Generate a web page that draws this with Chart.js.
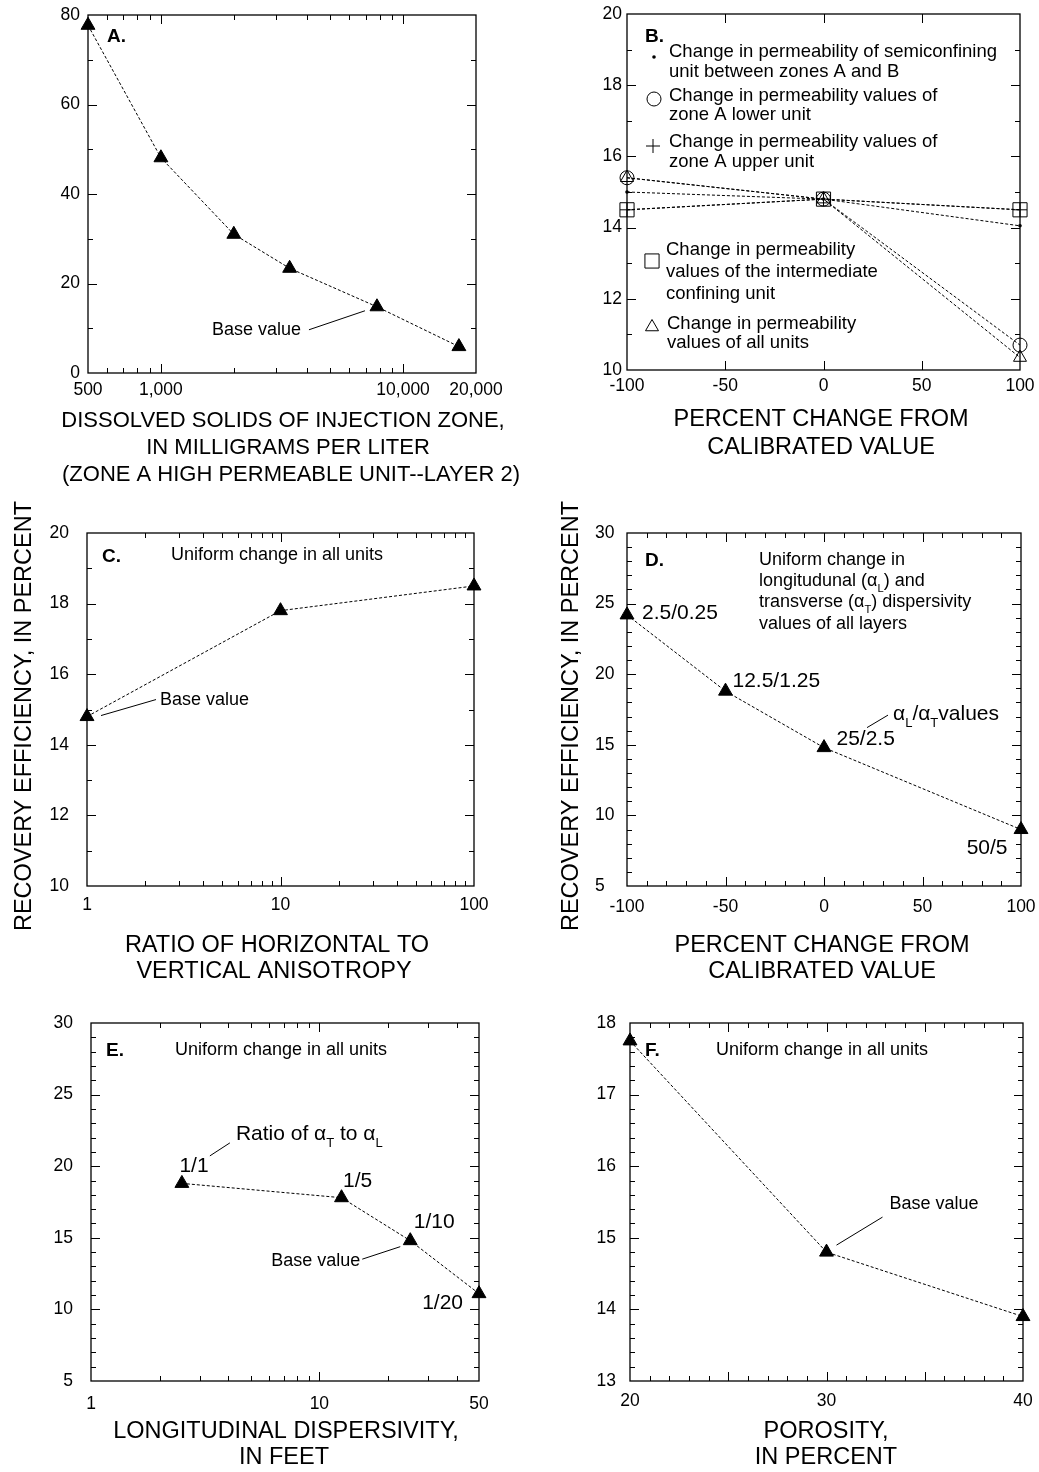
<!DOCTYPE html>
<html><head><meta charset="utf-8">
<script src="https://cdn.jsdelivr.net/npm/chart.js@4/dist/chart.umd.min.js"></script>
<style>
html,body{margin:0;padding:0;background:#fff;}
#wrap{position:relative;width:1039px;height:1472px;overflow:hidden;background:#fff;}
#wrap canvas{position:absolute;}
</style></head><body>
<div id="wrap">
<canvas id="cA"></canvas><canvas id="cB"></canvas>
<canvas id="cC"></canvas><canvas id="cD"></canvas>
<canvas id="cE"></canvas><canvas id="cF"></canvas>
</div>
<script>
// ---------------- DATA ----------------
// Panel A
const A_DISSOLVED_SOLIDS = [500, 1000, 2000, 3400, 7800, 17000];
const A_RECOVERY = [77.7, 48.1, 31.0, 23.4, 14.8, 5.9];
const A_X_TICKS = [500, 600, 700, 800, 900, 1000, 2000, 3000, 4000, 5000, 6000, 7000, 8000, 9000, 10000, 20000];
const A_X_LABELS = [500, 1000, 10000, 20000];
// Panel B
const B_PERCENT_CHANGE = [-100, 0, 100];
const B_SEMICONFINING = [15.0, 14.8, 14.05];
const B_LOWER_UNIT = [15.4, 14.8, 10.7];
const B_UPPER_UNIT = [14.5, 14.8, 14.5];
const B_INTERMEDIATE = [14.5, 14.8, 14.5];
const B_ALL_UNITS = [15.4, 14.8, 10.35];
// Panel C
const C_ANISOTROPY = [1, 10, 100];
const C_RECOVERY = [14.8, 17.8, 18.5];
const C_X_TICKS = [1, 2, 3, 4, 5, 6, 7, 8, 9, 10, 20, 30, 40, 50, 60, 70, 80, 90, 100];
const C_X_LABELS = [1, 10, 100];
// Panel D
const D_PERCENT_CHANGE = [-100, -50, 0, 100];
const D_RECOVERY = [24.2, 18.8, 14.8, 9.0];
const D_POINT_LABELS = ['2.5/0.25', '12.5/1.25', '25/2.5', '50/5'];
// Panel E
const E_DISPERSIVITY = [2.5, 12.5, 25, 50];
const E_RECOVERY = [18.8, 17.8, 14.8, 11.1];
const E_POINT_LABELS = ['1/1', '1/5', '1/10', '1/20'];
const E_X_TICKS = [1, 2, 3, 4, 5, 6, 7, 8, 9, 10, 20, 30, 40, 50];
const E_X_LABELS = [1, 10, 50];
// Panel F
const F_POROSITY = [20, 30, 40];
const F_RECOVERY = [17.75, 14.8, 13.9];

// ---------------- HELPERS ----------------
const FONT = '"Liberation Sans", Arial, Helvetica, sans-serif';
const TICK_SIZE = 17.5;
const fnt = (s, b) => (b ? 'bold ' : '') + s + 'px ' + FONT;
const pts = (xs, ys) => xs.map((x, i) => ({x: x, y: ys[i]}));
const LOG_MAJOR = v => Math.abs(Math.log10(v) - Math.round(Math.log10(v))) < 1e-9;
const multOf = m => v => Math.abs(v / m - Math.round(v / m)) < 1e-6;

function txt(ctx, s, x, cc, size, o) {
  o = o || {};
  ctx.save();
  ctx.font = fnt(size, o.bold);
  ctx.fillStyle = '#000';
  ctx.textAlign = o.align || 'left';
  ctx.textBaseline = 'alphabetic';
  ctx.fillText(s, x, cc + 0.358 * size);
  ctx.restore();
}
function rich(ctx, segs, x, cc, size) {
  ctx.save();
  ctx.fillStyle = '#000';
  ctx.textAlign = 'left';
  ctx.textBaseline = 'alphabetic';
  let cx = x;
  const base = cc + 0.358 * size;
  for (const [t, sub] of segs) {
    const s = sub ? size * 0.62 : size;
    ctx.font = fnt(s);
    ctx.fillText(t, cx, base + (sub ? size * 0.32 : 0));
    cx += ctx.measureText(t).width;
  }
  ctx.restore();
}
function vtxt(ctx, s, cx, cy, size) {
  ctx.save();
  ctx.translate(cx, cy);
  ctx.rotate(-Math.PI / 2);
  ctx.font = fnt(size);
  ctx.fillStyle = '#000';
  ctx.textAlign = 'center';
  ctx.textBaseline = 'alphabetic';
  ctx.fillText(s, 0, 0.358 * size);
  ctx.restore();
}
function seg(ctx, x1, y1, x2, y2) {
  ctx.save();
  ctx.strokeStyle = '#000';
  ctx.lineWidth = 1;
  ctx.beginPath(); ctx.moveTo(x1, y1); ctx.lineTo(x2, y2); ctx.stroke();
  ctx.restore();
}
function marker(ctx, kind, x, y, r) {
  ctx.save();
  ctx.strokeStyle = '#000'; ctx.fillStyle = '#000'; ctx.lineWidth = 1;
  ctx.beginPath();
  if (kind === 'dot') { ctx.arc(x, y, r, 0, Math.PI * 2); ctx.fill(); }
  else if (kind === 'circle') { ctx.arc(x, y, r, 0, Math.PI * 2); ctx.stroke(); }
  else if (kind === 'cross') { ctx.moveTo(x - r, y); ctx.lineTo(x + r, y); ctx.moveTo(x, y - r); ctx.lineTo(x, y + r); ctx.stroke(); }
  else if (kind === 'rect') { const s = r * Math.SQRT1_2; ctx.rect(x - s, y - s, 2 * s, 2 * s); ctx.stroke(); }
  else if (kind === 'triangle') {
    ctx.moveTo(x, y - r);
    ctx.lineTo(x + r * 0.866, y + r / 2);
    ctx.lineTo(x - r * 0.866, y + r / 2);
    ctx.closePath(); ctx.stroke();
  }
  ctx.restore();
}

function lineDs(data, extra) {
  return Object.assign({
    data: data, borderColor: '#000', borderWidth: 1, borderDash: [3, 2],
    pointStyle: 'triangle', pointRadius: 8, pointHoverRadius: 8,
    pointBackgroundColor: '#000', pointBorderColor: '#000', pointBorderWidth: 1,
    tension: 0, fill: false, clip: false
  }, extra || {});
}

function axisOpts(ax, isX, size) {
  const o = {
    type: ax.type || 'linear',
    min: ax.min, max: ax.max,
    grid: {display: false, drawTicks: false},
    border: {display: false},
    ticks: {
      color: '#000',
      font: {family: FONT, size: TICK_SIZE},
      padding: ax.pad,
      autoSkip: false,
      maxRotation: 0, minRotation: 0,
      maxTicksLimit: 1000,
      crossAlign: ax.crossAlign || 'near',
      callback: function (v) {
        if (ax.labels) return ax.labels.some(l => Math.abs(l - v) < 1e-9) ? (ax.fmt ? ax.fmt(v) : String(v)) : '';
        return multOf(ax.labelEvery)(v) ? String(Math.round(v)) : '';
      }
    },
    afterFit: function (s) {
      if (isX) s.height = size; else s.width = size;
      s.paddingLeft = 0; s.paddingRight = 0; s.paddingTop = 0; s.paddingBottom = 0;
    }
  };
  if (ax.values) {
    o.afterBuildTicks = function (s) { s.ticks = ax.values.map(v => ({value: v})); };
  } else {
    o.ticks.stepSize = ax.step;
  }
  return o;
}

function makePanel(p) {
  const cv = document.getElementById(p.id);
  cv.width = p.w; cv.height = p.h;
  cv.style.left = p.ox + 'px'; cv.style.top = p.oy + 'px';
  const L = p.box.L - p.ox, T = p.box.T - p.oy, R = p.box.R - p.ox, B = p.box.B - p.oy;
  const padL = p.y.labelLeft ? p.y.labelLeft - p.ox : 0;
  const isMajorX = p.x.isMajor || multOf(p.x.major);
  const isMajorY = p.y.isMajor || multOf(p.y.major);
  const frame = {
    id: 'frame' + p.id,
    beforeDatasetsDraw(chart) {
      const ctx = chart.ctx, a = chart.chartArea, sx = chart.scales.x, sy = chart.scales.y;
      ctx.save();
      ctx.strokeStyle = '#000';
      ctx.lineWidth = 1;
      for (const t of sx.ticks) {
        const px = Math.round(sx.getPixelForValue(t.value)) + 0.5;
        if (px <= a.left + 1.5 || px >= a.right - 1.5) continue;
        const len = isMajorX(t.value) ? 9 : 5;
        ctx.beginPath();
        ctx.moveTo(px, a.bottom); ctx.lineTo(px, a.bottom - len);
        ctx.moveTo(px, a.top); ctx.lineTo(px, a.top + len);
        ctx.stroke();
      }
      for (const t of sy.ticks) {
        const py = Math.round(sy.getPixelForValue(t.value)) + 0.5;
        if (py <= a.top + 1.5 || py >= a.bottom - 1.5) continue;
        const len = isMajorY(t.value) ? 9 : 5;
        ctx.beginPath();
        ctx.moveTo(a.left, py); ctx.lineTo(a.left + len, py);
        ctx.moveTo(a.right, py); ctx.lineTo(a.right - len, py);
        ctx.stroke();
      }
      ctx.lineWidth = 1.3;
      ctx.strokeRect(a.left, a.top, a.right - a.left, a.bottom - a.top);
      ctx.restore();
    }
  };
  const decor = {
    id: 'decor' + p.id,
    afterDraw(chart) {
      const ctx = chart.ctx;
      const P = (i, d) => {
        const el = chart.getDatasetMeta(d || 0).data[i];
        return {x: el.x + p.ox, y: el.y + p.oy};
      };
      ctx.save();
      ctx.translate(-p.ox, -p.oy);
      p.decor(ctx, P);
      ctx.restore();
    }
  };
  new Chart(cv, {
    type: 'line',
    data: {datasets: p.datasets},
    options: {
      responsive: false, animation: false, devicePixelRatio: 1,
      events: [],
      layout: {padding: {left: padL, top: T, right: p.w - R, bottom: 0}},
      plugins: {legend: {display: false}, tooltip: {enabled: false}},
      scales: {
        x: axisOpts(p.x, true, p.h - B),
        y: axisOpts(p.y, false, L - padL)
      }
    },
    plugins: [frame, decor]
  });
}

const YTITLE = 'RECOVERY EFFICIENCY, IN PERCENT';

// ---------------- PANELS ----------------
makePanel({
  id: 'cA', ox: 0, oy: 0, w: 519, h: 490,
  box: {L: 88, T: 15, R: 476, B: 373},
  x: {type: 'logarithmic', min: 500, max: 20000, values: A_X_TICKS, labels: A_X_LABELS,
      fmt: v => Number(v).toLocaleString('en-US'), isMajor: LOG_MAJOR, pad: 7},
  y: {min: 0, max: 80, step: 10, labelEvery: 20, major: 20, pad: 8},
  datasets: [lineDs(pts(A_DISSOLVED_SOLIDS, A_RECOVERY))],
  decor(ctx, P) {
    txt(ctx, 'A.', 107, 35, 19, {bold: true});
    const b = P(4);
    txt(ctx, 'Base value', b.x - 76, b.y + 22, 18, {align: 'right'});
    seg(ctx, b.x - 68, b.y + 23, b.x - 12, b.y + 4);
    txt(ctx, 'DISSOLVED SOLIDS OF INJECTION ZONE,', 283, 419, 22, {align: 'center'});
    txt(ctx, 'IN MILLIGRAMS PER LITER', 288, 446, 22, {align: 'center'});
    txt(ctx, '(ZONE A HIGH PERMEABLE UNIT--LAYER 2)', 291, 473, 22, {align: 'center'});
  }
});

makePanel({
  id: 'cB', ox: 519, oy: 0, w: 520, h: 490,
  box: {L: 627, T: 14, R: 1020, B: 370},
  x: {min: -100, max: 100, step: 50, labelEvery: 50, major: 50, pad: 6},
  y: {min: 10, max: 20, step: 1, labelEvery: 2, major: 2, pad: 5},
  datasets: [
    lineDs(pts(B_PERCENT_CHANGE, B_SEMICONFINING), {pointStyle: 'circle', pointRadius: 1.8, pointBorderWidth: 0}),
    lineDs(pts(B_PERCENT_CHANGE, B_LOWER_UNIT), {pointStyle: 'circle', pointRadius: 7, pointBackgroundColor: 'rgba(0,0,0,0)'}),
    lineDs(pts(B_PERCENT_CHANGE, B_UPPER_UNIT), {pointStyle: 'cross', pointRadius: 7, pointBackgroundColor: 'rgba(0,0,0,0)'}),
    lineDs(pts(B_PERCENT_CHANGE, B_INTERMEDIATE), {pointStyle: 'rect', pointRadius: 10, pointBackgroundColor: 'rgba(0,0,0,0)'}),
    lineDs(pts(B_PERCENT_CHANGE, B_ALL_UNITS), {pointStyle: 'triangle', pointRadius: 7.5, pointBackgroundColor: 'rgba(0,0,0,0)'})
  ],
  decor(ctx, P) {
    txt(ctx, 'B.', 645, 35, 19, {bold: true});
    const S = 18.5;
    marker(ctx, 'dot', 654, 57, 1.8);
    txt(ctx, 'Change in permeability of semiconfining', 669, 50.5, S);
    txt(ctx, 'unit between zones A and B', 669, 70, S);
    marker(ctx, 'circle', 654, 99, 7);
    txt(ctx, 'Change in permeability values of', 669, 94, S);
    txt(ctx, 'zone A lower unit', 669, 113, S);
    marker(ctx, 'cross', 653, 146, 7);
    txt(ctx, 'Change in permeability values of', 669, 140.5, S);
    txt(ctx, 'zone A upper unit', 669, 160, S);
    marker(ctx, 'rect', 652, 261, 10);
    txt(ctx, 'Change in permeability', 666, 248.5, S);
    txt(ctx, 'values of the intermediate', 666, 270, S);
    txt(ctx, 'confining unit', 666, 292.5, S);
    marker(ctx, 'triangle', 652, 327, 7.5);
    txt(ctx, 'Change in permeability', 667, 322, S);
    txt(ctx, 'values of all units', 667, 341, S);
    txt(ctx, 'PERCENT CHANGE FROM', 821, 418, 23.5, {align: 'center'});
    txt(ctx, 'CALIBRATED VALUE', 821, 446, 23.5, {align: 'center'});
  }
});

makePanel({
  id: 'cC', ox: 0, oy: 490, w: 519, h: 500,
  box: {L: 87, T: 533, R: 474, B: 886},
  x: {type: 'logarithmic', min: 1, max: 100, values: C_X_TICKS, labels: C_X_LABELS, isMajor: LOG_MAJOR, pad: 9},
  y: {min: 10, max: 20, step: 1, labelEvery: 2, major: 2, pad: 18},
  datasets: [lineDs(pts(C_ANISOTROPY, C_RECOVERY))],
  decor(ctx, P) {
    txt(ctx, 'C.', 102, 555, 19, {bold: true});
    txt(ctx, 'Uniform change in all units', 171, 554, 18);
    const b = P(0);
    txt(ctx, 'Base value', b.x + 73, b.y - 18.5, 18);
    seg(ctx, b.x + 69, b.y - 17, b.x + 14, b.y - 1);
    txt(ctx, 'RATIO OF HORIZONTAL TO', 277, 944, 23.5, {align: 'center'});
    txt(ctx, 'VERTICAL ANISOTROPY', 274, 970, 23.5, {align: 'center'});
    vtxt(ctx, YTITLE, 22.5, 716, 23.5);
  }
});

makePanel({
  id: 'cD', ox: 519, oy: 490, w: 520, h: 500,
  box: {L: 627, T: 533, R: 1021, B: 886},
  x: {min: -100, max: 100, step: 10, labelEvery: 50, major: 50, pad: 11},
  y: {min: 5, max: 30, step: 1, labelEvery: 5, major: 5, pad: 17, crossAlign: 'far', labelLeft: 595},
  datasets: [lineDs(pts(D_PERCENT_CHANGE, D_RECOVERY))],
  decor(ctx, P) {
    txt(ctx, 'D.', 645, 559, 19, {bold: true});
    txt(ctx, 'Uniform change in', 759, 559, 18);
    rich(ctx, [['longitudunal (', 0], ['\u03B1', 0], ['L', 1], [') and', 0]], 759, 579.5, 18);
    rich(ctx, [['transverse (', 0], ['\u03B1', 0], ['T', 1], [') dispersivity', 0]], 759, 601, 18);
    txt(ctx, 'values of all layers', 759, 622.5, 18);
    const p0 = P(0), p1 = P(1), p2 = P(2), p3 = P(3);
    txt(ctx, D_POINT_LABELS[0], p0.x + 15, p0.y - 3, 21);
    txt(ctx, D_POINT_LABELS[1], p1.x + 7, p1.y - 11.5, 21);
    txt(ctx, D_POINT_LABELS[2], p2.x + 12.5, p2.y - 10.5, 21);
    txt(ctx, D_POINT_LABELS[3], p3.x - 13.5, p3.y + 17, 21, {align: 'right'});
    rich(ctx, [['\u03B1', 0], ['L', 1], ['/', 0], ['\u03B1', 0], ['T', 1], ['values', 0]], p2.x + 69, p2.y - 35, 21);
    seg(ctx, p2.x + 43, p2.y - 20, p2.x + 64, p2.y - 32.5);
    txt(ctx, 'PERCENT CHANGE FROM', 822, 944, 23.5, {align: 'center'});
    txt(ctx, 'CALIBRATED VALUE', 822, 970, 23.5, {align: 'center'});
    vtxt(ctx, YTITLE, 570, 716, 23.5);
  }
});

makePanel({
  id: 'cE', ox: 0, oy: 990, w: 519, h: 482,
  box: {L: 91, T: 1023, R: 479, B: 1381},
  x: {type: 'logarithmic', min: 1, max: 50, values: E_X_TICKS, labels: E_X_LABELS, isMajor: LOG_MAJOR, pad: 13},
  y: {min: 5, max: 30, step: 1, labelEvery: 5, major: 5, pad: 18},
  datasets: [lineDs(pts(E_DISPERSIVITY, E_RECOVERY))],
  decor(ctx, P) {
    txt(ctx, 'E.', 106, 1049, 19, {bold: true});
    txt(ctx, 'Uniform change in all units', 175, 1049, 18);
    const p0 = P(0), p1 = P(1), p2 = P(2), p3 = P(3);
    rich(ctx, [['Ratio of ', 0], ['\u03B1', 0], ['T', 1], [' to ', 0], ['\u03B1', 0], ['L', 1]], p0.x + 54, p0.y - 51, 21);
    seg(ctx, p0.x + 28, p0.y - 27.5, p0.x + 48, p0.y - 40.5);
    txt(ctx, E_POINT_LABELS[0], p0.x - 2.5, p0.y - 18.5, 21);
    txt(ctx, E_POINT_LABELS[1], p1.x + 1.5, p1.y - 18.5, 21);
    txt(ctx, E_POINT_LABELS[2], p2.x + 3.5, p2.y - 20, 21);
    txt(ctx, E_POINT_LABELS[3], p3.x - 16, p3.y + 7.5, 21, {align: 'right'});
    txt(ctx, 'Base value', p2.x - 50, p2.y + 18.5, 18, {align: 'right'});
    seg(ctx, p2.x - 48, p2.y + 18.5, p2.x - 10, p2.y + 6);
    txt(ctx, 'LONGITUDINAL DISPERSIVITY,', 286, 1430, 23.5, {align: 'center'});
    txt(ctx, 'IN FEET', 284, 1456, 23.5, {align: 'center'});
  }
});

makePanel({
  id: 'cF', ox: 519, oy: 990, w: 520, h: 482,
  box: {L: 630, T: 1023, R: 1023, B: 1381},
  x: {min: 20, max: 40, step: 1, labelEvery: 10, major: 5, pad: 10},
  y: {min: 13, max: 18, step: 0.2, labelEvery: 1, major: 1, pad: 14},
  datasets: [lineDs(pts(F_POROSITY, F_RECOVERY))],
  decor(ctx, P) {
    txt(ctx, 'F.', 645, 1049, 19, {bold: true});
    txt(ctx, 'Uniform change in all units', 716, 1049, 18);
    const b = P(1);
    txt(ctx, 'Base value', b.x + 63, b.y - 50, 18);
    seg(ctx, b.x + 10, b.y - 7, b.x + 56, b.y - 35);
    txt(ctx, 'POROSITY,', 826, 1430, 23.5, {align: 'center'});
    txt(ctx, 'IN PERCENT', 826, 1456, 23.5, {align: 'center'});
  }
});
</script>
</body></html>
